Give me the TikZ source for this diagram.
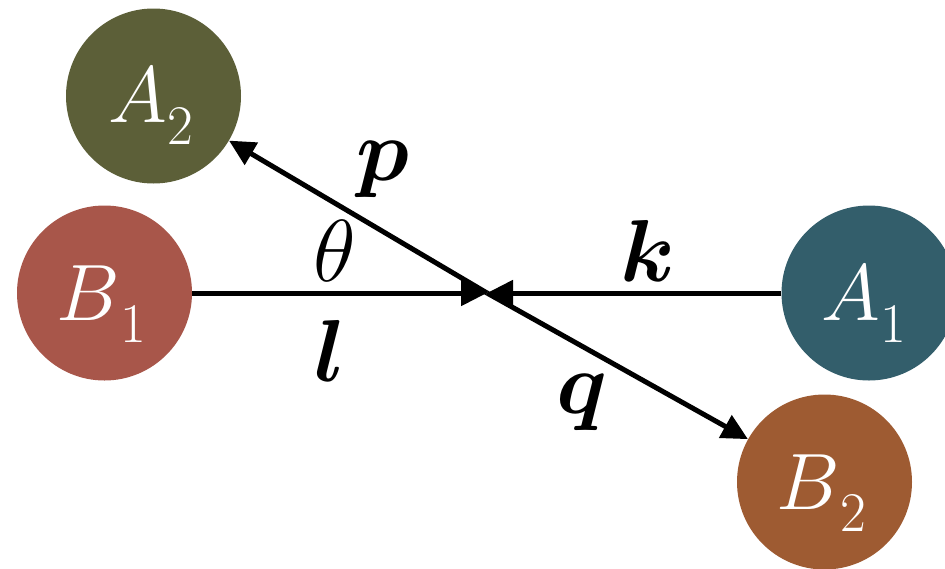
\RequirePackage{fix-cm}
\documentclass[tikz,border=0pt]{standalone}
\usepackage{amsmath}
\usepackage{bm}
\usetikzlibrary{arrows.meta,calc}
\definecolor{colA2}{HTML}{5C5F38}
\definecolor{colB1}{HTML}{A8564A}
\definecolor{colA1}{HTML}{335E6B}
\definecolor{colB2}{HTML}{9E5B32}
\newcommand{\ballname}[2]{{\fontsize{80}{80}\selectfont$#1$\raisebox{-22pt}{\fontsize{56}{56}\selectfont$#2$}}}
\tikzset{
  ball/.style={circle, inner sep=0pt, minimum size=175pt, draw=none},
  balltext/.style={inner sep=0pt, text=white},
  mlabel/.style={inner sep=0pt, anchor=base, font=\fontsize{88}{88}\selectfont},
  arr/.style={line width=5pt, -{Triangle[length=26pt,width=25pt]}}
}
\begin{document}
\begin{tikzpicture}[x=1pt,y=-1pt]
\useasboundingbox (0,0) rectangle (945,568);
\node[ball, fill=colA2] (A2) at (153.5,96) {};
\node[ball, fill=colB1] (B1) at (104.5,293) {};
\node[ball, fill=colA1] (A1) at (869,293) {};
\node[ball, fill=colB2] (B2) at (824.5,482) {};
\node[balltext] (A2t) at ($(A2.center)+(-3,10)$) {\ballname{A}{2}};
\node[balltext] (B1t) at ($(B1.center)+(-3,11)$) {\ballname{B}{1}};
\node[balltext] (A1t) at ($(A1.center)+(-5,11)$) {\ballname{A}{1}};
\node[balltext] (B2t) at ($(B2.center)+(-3,11)$) {\ballname{B}{2}};
\coordinate (C) at (487,293);
\draw[arr] (B1.east) -- (C);
\draw[arr] (A1.west) -- (C);
\draw[arr] (C) -- (A2);
\draw[arr] (C) -- (B2);
\node[mlabel] (p) at (383,180) {$\bm{p}$};
\node[mlabel] (th) at (335,281) {$\theta$};
\node[mlabel] (k) at (648,281) {$\bm{k}$};
\node[mlabel] (l) at (330,381) {$\bm{l}$};
\node[mlabel] (q) at (582,413) {$\bm{q}$};
\end{tikzpicture}
\end{document}
